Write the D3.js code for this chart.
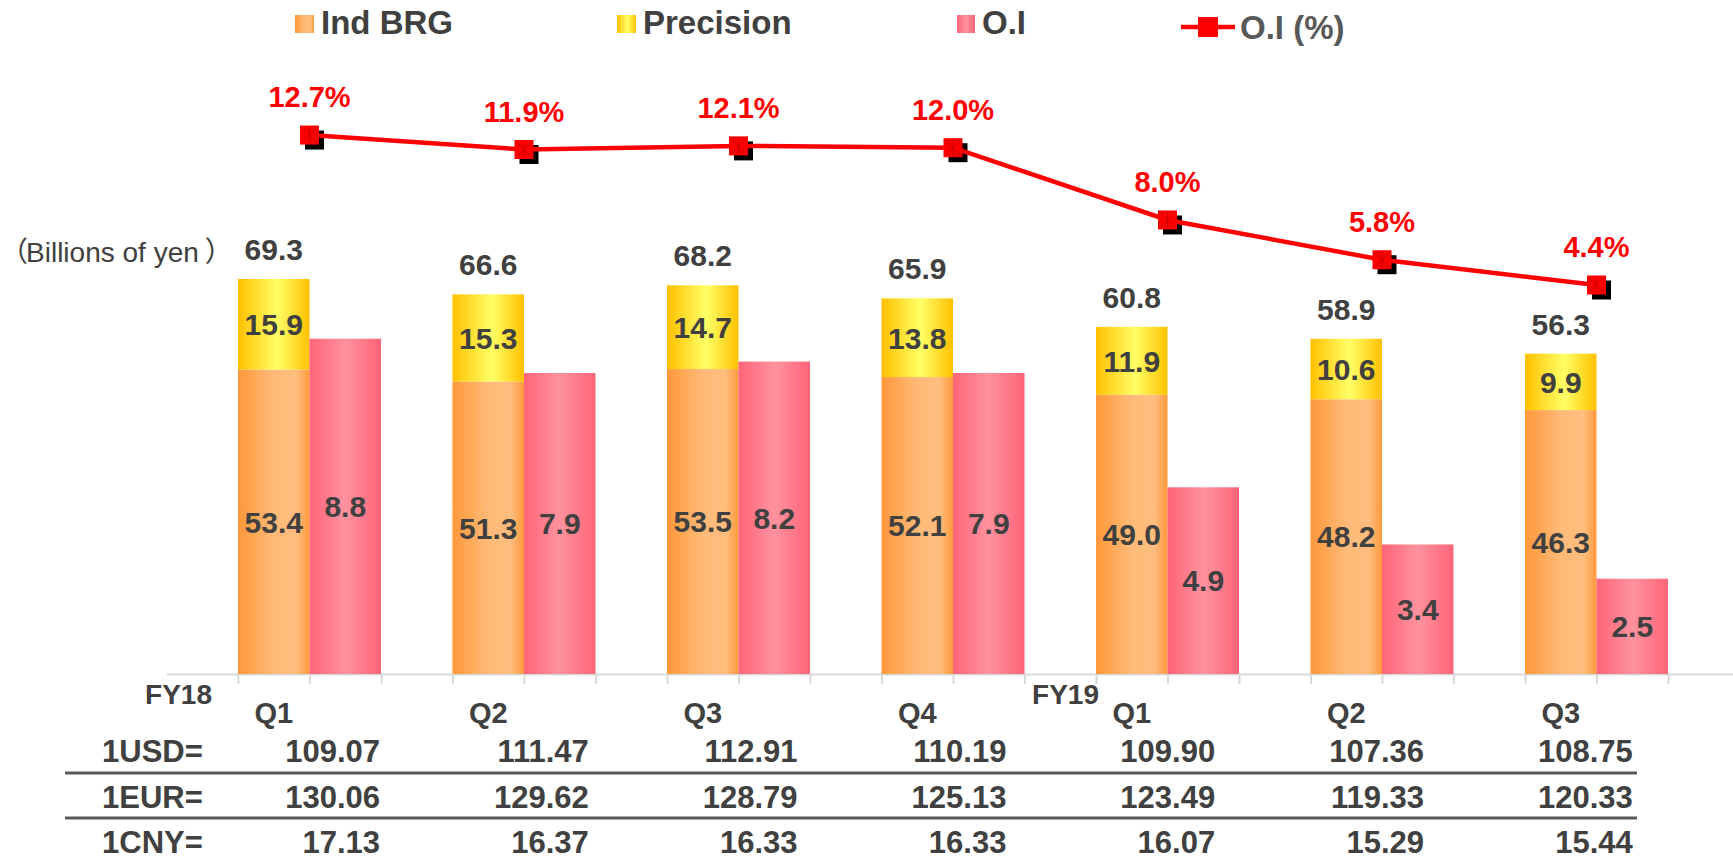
<!DOCTYPE html>
<html>
<head>
<meta charset="utf-8">
<script src="https://cdn.jsdelivr.net/npm/d3@7"></script>
<style>
  html, body { margin: 0; padding: 0; background: #ffffff; }
  svg { display: block; font-family: "Liberation Sans", Arial, "Noto Sans CJK JP", sans-serif; }
</style>
</head>
<body>
<svg id="chart" width="1733" height="857"></svg>
<script>
// ---- data ----
const quarters    = ["Q1", "Q2", "Q3", "Q4", "Q1", "Q2", "Q3"];
const fiscalYears = ["FY18", "FY18", "FY18", "FY18", "FY19", "FY19", "FY19"];
const indBrg      = [53.4, 51.3, 53.5, 52.1, 49.0, 48.2, 46.3];
const precision   = [15.9, 15.3, 14.7, 13.8, 11.9, 10.6, 9.9];
const salesTotal  = [69.3, 66.6, 68.2, 65.9, 60.8, 58.9, 56.3];
const opIncome    = [8.8, 7.9, 8.2, 7.9, 4.9, 3.4, 2.5];
const opMargin    = [12.7, 11.9, 12.1, 12.0, 8.0, 5.8, 4.4];
const rateNames   = ["1USD=", "1EUR=", "1CNY="];
const usdRates    = ["109.07", "111.47", "112.91", "110.19", "109.90", "107.36", "108.75"];
const eurRates    = ["130.06", "129.62", "128.79", "125.13", "123.49", "119.33", "120.33"];
const cnyRates    = ["17.13", "16.37", "16.33", "16.33", "16.07", "15.29", "15.44"];
const legendNames = ["Ind BRG", "Precision", "O.I", "O.I (%)"];
const unitParts   = ["（", "Billions of yen", "）"];

const categories = quarters.map((q, i) => fiscalYears[i] + " " + q);
const rateRows = [usdRates, eurRates, cnyRates];

// ---- layout ----
const svg = d3.select("#chart");
const W = 1733;
const baseY = 674;
const textColor = "#404040";

const x = d3.scaleBand().domain(categories).range([238, 1739.5]).padding(0);
const slot = x.bandwidth() / 3;
const xSeries = d3.scaleBand().domain(["sales", "oi"]).range([0, 2 * slot]).padding(0);

const yVal = d3.scaleLinear().domain([0, 80]).range([baseY, 218]);
const yOI  = d3.scaleLinear().domain([0, 10]).range([baseY, 293]);
const yPct = d3.scaleLinear().domain([0, 15]).range([364.5, 93.5]);

// ---- gradients ----
const defs = svg.append("defs");
function hGradient(id, stops) {
  const g = defs.append("linearGradient").attr("id", id)
    .attr("x1", "0%").attr("x2", "100%").attr("y1", "0%").attr("y2", "0%");
  stops.forEach(([o, c]) => g.append("stop").attr("offset", o).attr("stop-color", c));
}
hGradient("gOrange", [[0, "#FF983A"], [0.5, "#FFBA78"], [0.82, "#FFBD7E"], [1, "#FF983A"]]);
hGradient("gYellow", [[0, "#FFC000"], [0.55, "#FFFF66"], [1, "#FFC000"]]);
hGradient("gPink",   [[0, "#FF6478"], [0.5, "#FF929F"], [1, "#FF6478"]]);

// ---- axis ----
const tickPositions = categories.flatMap(c => [x(c), x(c) + slot, x(c) + 2 * slot]);
const xPix = d3.scaleLinear().domain([166.5, W]).range([166.5, W]);
const axis = svg.append("g").attr("transform", `translate(0,${baseY})`)
  .call(d3.axisBottom(xPix).tickValues(tickPositions).tickSize(10).tickSizeOuter(0).tickFormat(""));
axis.select(".domain").attr("stroke", "#d9d9d9").attr("stroke-width", 2);
axis.selectAll(".tick line").attr("stroke", "#d9d9d9").attr("stroke-width", 2);

// ---- bars ----
const bars = svg.append("g");
categories.forEach((c, i) => {
  const x0 = x(c) + xSeries("sales");
  const x1 = x(c) + xSeries("oi");
  const bw = xSeries.bandwidth();
  bars.append("rect").attr("x", x0).attr("width", bw)
    .attr("y", yVal(indBrg[i])).attr("height", baseY - yVal(indBrg[i]))
    .attr("fill", "url(#gOrange)");
  bars.append("rect").attr("x", x0).attr("width", bw)
    .attr("y", yVal(indBrg[i] + precision[i])).attr("height", yVal(indBrg[i]) - yVal(indBrg[i] + precision[i]))
    .attr("fill", "url(#gYellow)");
  bars.append("rect").attr("x", x1).attr("width", bw)
    .attr("y", yOI(opIncome[i])).attr("height", baseY - yOI(opIncome[i]))
    .attr("fill", "url(#gPink)");
});

// ---- bar labels ----
const lbl = svg.append("g").attr("font-weight", "bold").attr("fill", textColor)
  .attr("font-size", 30).attr("text-anchor", "middle");
const capHalf = 10.8;
categories.forEach((c, i) => {
  const cx0 = x(c) + xSeries("sales") + xSeries.bandwidth() / 2;
  const cx1 = x(c) + xSeries("oi") + xSeries.bandwidth() / 2;
  lbl.append("text").attr("x", cx0)
    .attr("y", (yVal(0) + yVal(indBrg[i])) / 2 + capHalf).text(indBrg[i].toFixed(1));
  lbl.append("text").attr("x", cx0)
    .attr("y", (yVal(indBrg[i]) + yVal(indBrg[i] + precision[i])) / 2 + capHalf).text(precision[i].toFixed(1));
  lbl.append("text").attr("x", cx0)
    .attr("y", yVal(indBrg[i] + precision[i]) - 19).text(salesTotal[i].toFixed(1));
  lbl.append("text").attr("x", cx1)
    .attr("y", (yOI(0) + yOI(opIncome[i])) / 2 + capHalf).text(opIncome[i].toFixed(1));
});

// ---- margin line ----
const px = i => x(categories[i]) + slot;
const mk = 19;
const lineG = svg.append("g");
lineG.selectAll("rect.shadow").data(opMargin).join("rect").attr("class", "shadow")
  .attr("x", (d, i) => px(i) - mk / 2 + 5).attr("y", d => yPct(d) - mk / 2 + 5)
  .attr("width", mk).attr("height", mk).attr("fill", "#000");
lineG.append("path").datum(opMargin)
  .attr("d", d3.line().x((d, i) => px(i)).y(d => yPct(d)))
  .attr("fill", "none").attr("stroke", "#FF0000").attr("stroke-width", 4.5);
function marker(g, cx, cy, size, star) {
  g.append("rect").attr("x", cx - size / 2).attr("y", cy - size / 2)
    .attr("width", size).attr("height", size).attr("fill", "#FF0000");
  if (star) {
    const h = size / 2 - 2;
    const p = `M${cx - h},${cy - h}L${cx + h},${cy + h}M${cx + h},${cy - h}L${cx - h},${cy + h}M${cx},${cy - h}L${cx},${cy + h}`;
    g.append("path").attr("d", p).attr("stroke", "#C80000").attr("stroke-width", 1).attr("fill", "none");
  }
}
opMargin.forEach((d, i) => marker(lineG, px(i), yPct(d), mk, true));
svg.append("g").attr("font-weight", "bold").attr("fill", "#FF0000")
  .attr("font-size", 29).attr("text-anchor", "middle")
  .selectAll("text").data(opMargin).join("text")
  .attr("x", (d, i) => px(i)).attr("y", d => yPct(d) - 28)
  .text(d => d.toFixed(1) + "%");

// ---- unit label ----
const unit = svg.append("text").attr("x", 0).attr("y", 262).attr("font-size", 28)
  .attr("fill", textColor);
unit.append("tspan").text(unitParts[0]);
unit.append("tspan").attr("dx", -2).text(unitParts[1]);
unit.append("tspan").attr("dx", 6).text(unitParts[2]);

// ---- category labels ----
const catG = svg.append("g").attr("font-weight", "bold").attr("fill", textColor);
catG.selectAll("text.q").data(categories).join("text").attr("class", "q")
  .attr("x", c => x(c) + xSeries("sales") + xSeries.bandwidth() / 2)
  .attr("y", 723).attr("font-size", 29).attr("text-anchor", "middle")
  .text((c, i) => quarters[i]);
const fyStarts = categories.map((c, i) => i).filter(i => i === 0 || fiscalYears[i] !== fiscalYears[i - 1]);
const fyOffset = { FY18: -26, FY19: 3 };
catG.selectAll("text.fy").data(fyStarts).join("text").attr("class", "fy")
  .attr("x", i => x(categories[i]) + fyOffset[fiscalYears[i]])
  .attr("y", 704).attr("font-size", 28).attr("text-anchor", "end")
  .text(i => fiscalYears[i]);

// ---- exchange rate table ----
const colX = d3.scaleLinear().domain([0, categories.length - 1]).range([380, 1632.8]);
const rowY = d3.scaleLinear().domain([0, 2]).range([762, 853]);
const tbl = svg.append("g").attr("font-weight", "bold").attr("fill", textColor).attr("font-size", 31);
rateNames.forEach((name, r) => {
  tbl.append("text").attr("x", 102).attr("y", rowY(r)).text(name);
  tbl.selectAll(null).data(rateRows[r]).join("text")
    .attr("x", (d, i) => colX(i)).attr("y", rowY(r)).attr("text-anchor", "end").text(d => d);
});
[773, 818].forEach(y => svg.append("line").attr("x1", 65).attr("x2", 1637)
  .attr("y1", y).attr("y2", y).attr("stroke", "#595959").attr("stroke-width", 3));

// ---- legend ----
const leg = svg.append("g").attr("font-weight", "bold").attr("font-size", 33);
const swatches = [
  { name: legendNames[0], fill: "url(#gOrange)", sx: 295, sw: 19 },
  { name: legendNames[1], fill: "url(#gYellow)", sx: 617, sw: 19 },
  { name: legendNames[2], fill: "url(#gPink)",   sx: 957, sw: 18 }
];
swatches.forEach(s => {
  leg.append("rect").attr("x", s.sx).attr("y", 15).attr("width", s.sw).attr("height", 18).attr("fill", s.fill);
  leg.append("text").attr("x", s.sx + s.sw + 7).attr("y", 34).attr("fill", textColor).text(s.name);
});
leg.append("line").attr("x1", 1181).attr("x2", 1235).attr("y1", 27).attr("y2", 27)
  .attr("stroke", "#FF0000").attr("stroke-width", 4.5);
marker(leg, 1208, 27, 20, false);
leg.append("text").attr("x", 1240).attr("y", 39).attr("fill", "#595959").text(legendNames[3]);
</script>
</body>
</html>
